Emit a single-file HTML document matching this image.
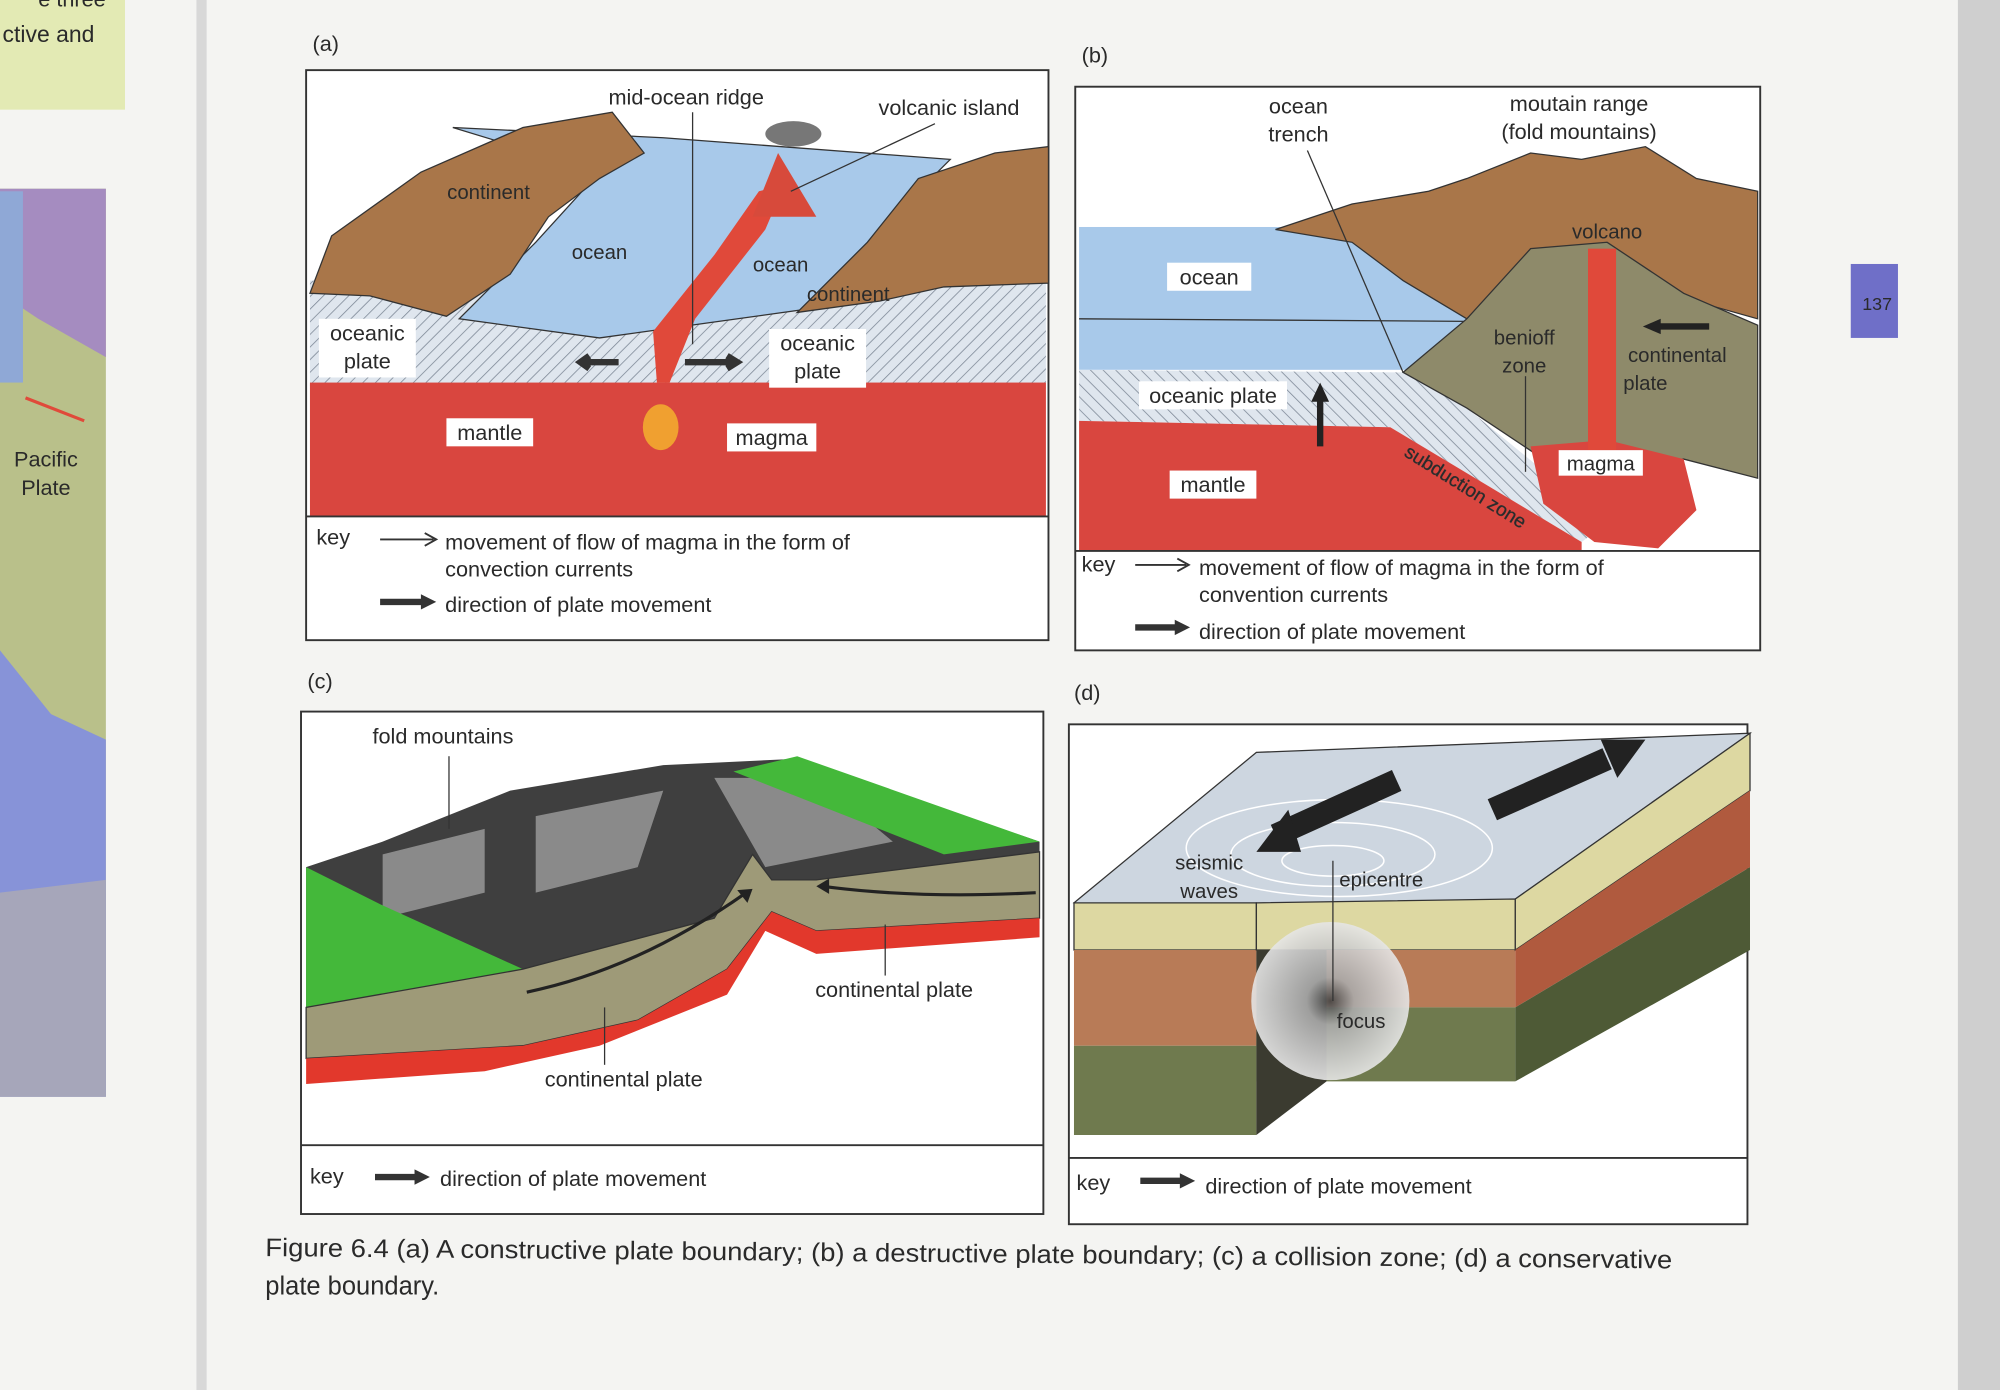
<!DOCTYPE html>
<html><head><meta charset="utf-8"><style>
html,body{margin:0;padding:0;background:#f4f4f2;}
svg{display:block}
text{font-family:"Liberation Sans",sans-serif;fill:#2a2a2a}
</style></head><body>
<svg width="2000" height="1390" viewBox="0 0 1568 1090" preserveAspectRatio="none" xmlns="http://www.w3.org/2000/svg">
<defs>
<pattern id="h" width="7" height="7" patternUnits="userSpaceOnUse" patternTransform="rotate(45)">
<rect width="7" height="7" fill="#dfe6ee"/><line x1="0" y1="0" x2="0" y2="7" stroke="#7a8594" stroke-width="1.2"/></pattern>
<pattern id="h2" width="7" height="7" patternUnits="userSpaceOnUse" patternTransform="rotate(-45)">
<rect width="7" height="7" fill="#dfe6ee"/><line x1="0" y1="0" x2="0" y2="7" stroke="#7a8594" stroke-width="1.2"/></pattern>
<radialGradient id="f"><stop offset="0" stop-color="#444"/><stop offset="0.3" stop-color="#aaa"/><stop offset="1" stop-color="#e6e6e6"/></radialGradient>
</defs>
<rect width="1568" height="1090" fill="#f4f4f2"/>
<rect x="0" y="0" width="98" height="86" fill="#e3eab4"/>
<text x="30" y="5" font-size="17" fill="#555">e three</text>
<text x="2" y="33" font-size="18" fill="#555">ctive and</text>
<rect x="0" y="148" width="83" height="712" fill="#b9c08a"/>
<path d="M0 148 L83 148 L83 280 L30 250 L0 230Z" fill="#a58cc0"/>
<path d="M0 510 L40 560 L83 580 L83 860 L0 860Z" fill="#8793d8"/>
<path d="M0 700 L83 690 L83 860 L0 860Z" fill="#a6a6ba"/>
<rect x="0" y="150" width="18" height="150" fill="#8fa8d6"/>
<line x1="20" y1="312" x2="66" y2="330" stroke="#e04a3a" stroke-width="2.5"/>
<text x="36" y="366" font-size="17" text-anchor="middle" fill="#333">Pacific</text>
<text x="36" y="388" font-size="17" text-anchor="middle" fill="#333">Plate</text>
<rect x="154" y="0" width="8" height="1090" fill="#d8d8d8"/>
<rect x="1535" y="0" width="33" height="1090" fill="#cfcfcf"/>
<rect x="1451" y="207" width="37" height="58" fill="#6f6fc8"/>
<text x="1460" y="243" font-size="14" fill="#fff">137</text>

<text x="245" y="40" font-size="17">(a)</text>
<rect x="240" y="55" width="582" height="447" fill="#fff" stroke="#333" stroke-width="1.5"/>
<rect x="243" y="220" width="577" height="85" fill="url(#h)"/>
<rect x="243" y="300" width="577" height="105" fill="#d9463f"/>
<path d="M355 100 L520 108 L745 125 L690 180 L650 240 L470 265 L360 250 L420 190 L470 135Z" fill="#a8c9ea" stroke="#333"/>
<path d="M243 230 L260 185 L330 135 L410 100 L480 88 L505 120 L470 140 L430 170 L400 215 L350 248 L290 232Z" fill="#a97649" stroke="#333"/>
<path d="M625 245 L680 190 L720 140 L780 120 L822 115 L822 222 L740 225 L690 236Z" fill="#a97649" stroke="#333"/>
<path d="M515 300 L512 260 L560 200 L595 150 L615 145 L600 180 L545 250 L525 300Z" fill="#e0493a"/>
<path d="M590 170 L610 120 L640 170Z" fill="#d74a3b"/>
<ellipse cx="622" cy="105" rx="22" ry="10" fill="#777"/>
<ellipse cx="518" cy="335" rx="14" ry="18" fill="#f0a030"/>
<line x1="543" y1="88" x2="543" y2="270" stroke="#333"/>
<line x1="733" y1="97" x2="620" y2="150" stroke="#333"/>
<path d="M458 284 H485 M462 279 L455 284 L462 289" stroke="#333" stroke-width="5"/>
<path d="M537 284 H575 M570 279 L578 284 L570 289" stroke="#333" stroke-width="5"/>
<text x="538" y="82" font-size="17" text-anchor="middle">mid-ocean ridge</text>
<text x="744" y="90" font-size="17" text-anchor="middle">volcanic island</text>
<text x="383" y="156" font-size="16" text-anchor="middle" fill="#5a3a22">continent</text>
<text x="470" y="203" font-size="16" text-anchor="middle" fill="#334">ocean</text>
<text x="612" y="213" font-size="16" text-anchor="middle" fill="#334">ocean</text>
<text x="665" y="236" font-size="16" text-anchor="middle" fill="#5a3a22">continent</text>
<rect x="250" y="250" width="76" height="46" fill="#fff"/>
<text x="288" y="267" font-size="17" text-anchor="middle">oceanic</text>
<text x="288" y="289" font-size="17" text-anchor="middle">plate</text>
<rect x="603" y="258" width="76" height="46" fill="#fff"/>
<text x="641" y="275" font-size="17" text-anchor="middle">oceanic</text>
<text x="641" y="297" font-size="17" text-anchor="middle">plate</text>
<rect x="350" y="328" width="68" height="22" fill="#fff"/><text x="384" y="345" font-size="17" text-anchor="middle">mantle</text>
<rect x="570" y="332" width="70" height="22" fill="#fff"/><text x="605" y="349" font-size="17" text-anchor="middle">magma</text>
<line x1="240" y1="405" x2="822" y2="405" stroke="#333" stroke-width="1.5"/>
<text x="248" y="427" font-size="17">key</text>
<path d="M298 423 H340 M333 418 L342 423 L333 428" stroke="#333" stroke-width="1.5" fill="none"/>
<text x="349" y="431" font-size="17">movement of flow of magma in the form of</text>
<text x="349" y="452" font-size="17">convection currents</text>
<path d="M298 472 H332" stroke="#333" stroke-width="5"/><path d="M330 466 L342 472 L330 478Z" fill="#333"/>
<text x="349" y="480" font-size="17">direction of plate movement</text>

<text x="848" y="49" font-size="17">(b)</text>
<rect x="843" y="68" width="537" height="442" fill="#fff" stroke="#333" stroke-width="1.5"/>
<rect x="846" y="178" width="310" height="112" fill="#a8c9ea"/>
<line x1="846" y1="250" x2="1150" y2="252" stroke="#333"/>
<path d="M846 290 L1100 292 L1150 320 L1260 410 L1240 425 L1090 335 L846 330Z" fill="url(#h2)"/>
<path d="M846 330 L1090 335 L1240 425 L1240 432 L846 432Z" fill="#d9463f"/>
<path d="M1000 180 L1060 160 L1120 150 L1150 140 L1200 120 L1240 125 L1290 115 L1330 140 L1378 150 L1378 250 L1200 200 L1150 250 L1100 220 L1060 190Z" fill="#a97649" stroke="#333"/>
<path d="M1100 292 L1150 250 L1200 195 L1260 190 L1320 230 L1378 255 L1378 375 L1320 360 L1270 370 L1240 380 L1150 320Z" fill="#8e8a6a" stroke="#333"/>
<path d="M1200 350 L1260 345 L1320 360 L1330 400 L1300 430 L1250 425 L1210 395Z" fill="#d9463f"/>
<rect x="1245" y="195" width="22" height="160" fill="#e0493a"/>
<line x1="1025" y1="118" x2="1100" y2="292" stroke="#333"/>
<line x1="1196" y1="295" x2="1196" y2="370" stroke="#333"/>
<path d="M1035 350 V312" stroke="#222" stroke-width="5"/><path d="M1028 315 L1035 300 L1042 315Z" fill="#222"/>
<path d="M1340 256 H1300" stroke="#222" stroke-width="5"/><path d="M1302 250 L1288 256 L1302 262Z" fill="#222"/>
<text x="1018" y="89" font-size="17" text-anchor="middle">ocean</text>
<text x="1018" y="111" font-size="17" text-anchor="middle">trench</text>
<text x="1238" y="87" font-size="17" text-anchor="middle">moutain range</text>
<text x="1238" y="109" font-size="17" text-anchor="middle">(fold mountains)</text>
<text x="1260" y="187" font-size="16" text-anchor="middle" fill="#5a3a22">volcano</text>
<rect x="915" y="206" width="66" height="22" fill="#fff"/><text x="948" y="223" font-size="17" text-anchor="middle">ocean</text>
<rect x="893" y="299" width="116" height="22" fill="#fff"/><text x="951" y="316" font-size="17" text-anchor="middle">oceanic plate</text>
<rect x="917" y="369" width="68" height="22" fill="#fff"/><text x="951" y="386" font-size="17" text-anchor="middle">mantle</text>
<text x="1195" y="270" font-size="16" text-anchor="middle" fill="#333">benioff</text>
<text x="1195" y="292" font-size="16" text-anchor="middle" fill="#333">zone</text>
<text x="1315" y="284" font-size="16" text-anchor="middle" fill="#333">continental</text>
<text x="1290" y="306" font-size="16" text-anchor="middle" fill="#333">plate</text>
<rect x="1222" y="353" width="66" height="20" fill="#fff"/><text x="1255" y="369" font-size="16" text-anchor="middle">magma</text>
<text x="1100" y="357" font-size="15" transform="rotate(32 1100 357)" fill="#fff" stroke="#333" stroke-width="0.3">subduction zone</text>
<line x1="843" y1="432" x2="1380" y2="432" stroke="#333" stroke-width="1.5"/>
<text x="848" y="448" font-size="17">key</text>
<path d="M890 443 H930 M923 438 L932 443 L923 448" stroke="#333" stroke-width="1.5" fill="none"/>
<text x="940" y="451" font-size="17">movement of flow of magma in the form of</text>
<text x="940" y="472" font-size="17">convention currents</text>
<path d="M890 492 H923" stroke="#333" stroke-width="5"/><path d="M921 486 L933 492 L921 498Z" fill="#333"/>
<text x="940" y="501" font-size="17">direction of plate movement</text>

<text x="241" y="540" font-size="17">(c)</text>
<rect x="236" y="558" width="582" height="394" fill="#fff" stroke="#333" stroke-width="1.5"/>
<path d="M240 680 L300 660 L400 620 L520 600 L625 595 L815 660 L815 690 L640 700 L600 690 L560 740 L410 790 L240 790Z" fill="#3f3f3f"/>
<path d="M300 670 L380 650 L380 700 L300 720Z M420 640 L520 620 L500 680 L420 700Z M560 610 L640 610 L700 660 L600 680Z" fill="#8a8a8a"/>
<path d="M240 680 L300 710 L410 760 L410 790 L240 790Z" fill="#44b83a"/>
<path d="M575 605 L625 593 L815 660 L740 670Z" fill="#44b83a"/>
<path d="M240 790 L410 760 L560 720 L590 670 L605 690 L640 690 L815 668 L815 720 L640 730 L605 715 L570 760 L500 800 L410 820 L240 830Z" fill="#9e9a78" stroke="#333"/>
<path d="M240 830 L410 820 L500 800 L570 760 L605 715 L640 730 L815 720 L815 735 L640 748 L600 730 L570 780 L470 820 L380 840 L240 850Z" fill="#e2382c"/>
<path d="M413 778 Q500 760 585 700" stroke="#222" stroke-width="2.5" fill="none"/><path d="M578 698 L590 697 L586 708Z" fill="#222"/>
<path d="M812 700 Q720 705 645 695" stroke="#222" stroke-width="2.5" fill="none"/><path d="M650 689 L640 695 L650 701Z" fill="#222"/>
<line x1="352" y1="593" x2="352" y2="650" stroke="#333"/>
<line x1="474" y1="790" x2="474" y2="835" stroke="#333"/>
<line x1="694" y1="725" x2="694" y2="765" stroke="#333"/>
<text x="292" y="583" font-size="17">fold mountains</text>
<text x="701" y="782" font-size="17" text-anchor="middle">continental plate</text>
<text x="489" y="852" font-size="17" text-anchor="middle">continental plate</text>
<line x1="236" y1="898" x2="818" y2="898" stroke="#333" stroke-width="1.5"/>
<text x="243" y="928" font-size="17">key</text>
<path d="M294 923 H327" stroke="#333" stroke-width="5"/><path d="M325 917 L337 923 L325 929Z" fill="#333"/>
<text x="345" y="930" font-size="17">direction of plate movement</text>

<text x="842" y="549" font-size="17">(d)</text>
<rect x="838" y="568" width="532" height="392" fill="#fff" stroke="#333" stroke-width="1.5"/>
<path d="M842 708 L985 590 L1372 575 L1188 705 L985 745 Z" fill="#cdd6e0" stroke="#333"/>
<path d="M842 708 L985 708 L985 745 L842 745Z" fill="#ddd8a2" stroke="#333"/>
<path d="M842 745 L985 745 L985 820 L842 820Z" fill="#b87b57"/>
<path d="M842 820 L985 820 L985 890 L842 890Z" fill="#6f7a4e"/>
<path d="M985 708 L1188 705 L1188 745 L985 745Z" fill="#ddd8a2" stroke="#333"/>
<path d="M985 745 L1188 745 L1188 790 L985 790Z" fill="#b87b57"/>
<path d="M985 790 L1188 790 L1188 848 L985 848Z" fill="#6f7a4e"/>
<path d="M985 745 L985 890 L1040 848 L1040 745Z" fill="#3b3b30"/>
<path d="M1188 705 L1372 575 L1372 620 L1188 745Z" fill="#ddd8a2" stroke="#333"/>
<path d="M1188 745 L1372 620 L1372 680 L1188 790Z" fill="#b05a3e"/>
<path d="M1188 790 L1372 680 L1372 745 L1188 848Z" fill="#4e5a36"/>
<circle cx="1043" cy="785" r="62" fill="url(#f)" opacity="0.9"/>
<g fill="none" stroke="#fff" stroke-width="1.2"><ellipse cx="1045" cy="675" rx="40" ry="12"/><ellipse cx="1045" cy="670" rx="80" ry="25"/><ellipse cx="1050" cy="665" rx="120" ry="38"/></g>
<path d="M1095 612 L1000 655" stroke="#222" stroke-width="18"/><path d="M985 668 L1010 635 L1020 668Z" fill="#222"/>
<path d="M1170 635 L1260 595" stroke="#222" stroke-width="18"/><path d="M1290 580 L1255 580 L1268 610Z" fill="#222"/>
<line x1="1045" y1="675" x2="1045" y2="785" stroke="#333"/>
<text x="948" y="682" font-size="16" text-anchor="middle" fill="#444">seismic</text>
<text x="948" y="704" font-size="16" text-anchor="middle" fill="#444">waves</text>
<text x="1050" y="695" font-size="16" fill="#444">epicentre</text>
<text x="1048" y="806" font-size="16" fill="#444">focus</text>
<line x1="838" y1="908" x2="1370" y2="908" stroke="#333" stroke-width="1.5"/>
<text x="844" y="933" font-size="17">key</text>
<path d="M894 926 H927" stroke="#333" stroke-width="5"/><path d="M925 920 L937 926 L925 932Z" fill="#333"/>
<text x="945" y="936" font-size="17">direction of plate movement</text>

<text x="208" y="985" font-size="20" fill="#333" textLength="1103" lengthAdjust="spacingAndGlyphs" transform="rotate(0.5 208 985)">Figure 6.4 (a) A constructive plate boundary; (b) a destructive plate boundary; (c) a collision zone; (d) a conservative</text>
<text x="208" y="1015" font-size="20" fill="#333">plate boundary.</text>
</svg>
</body></html>
